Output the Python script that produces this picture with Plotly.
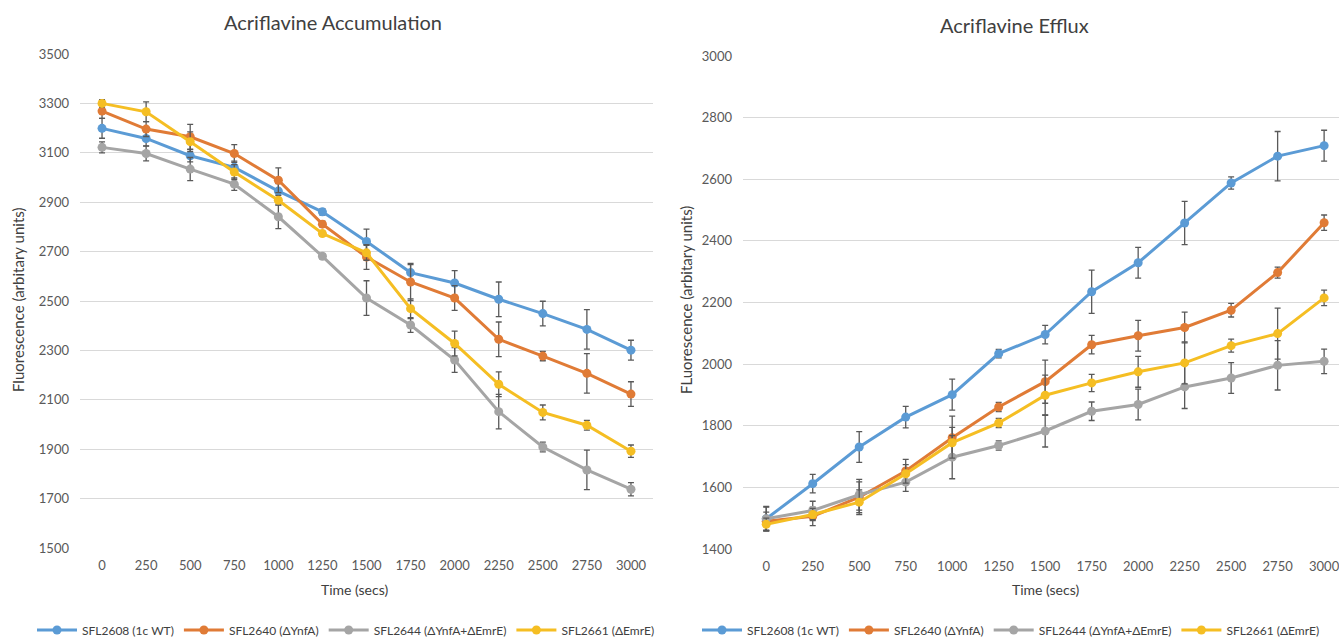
import plotly.graph_objects as go

times = ["0", "250", "500", "750", "1000", "1250", "1500", "1750", "2000", "2250", "2500", "2750", "3000"]
names = ["SFL2608 (1c WT)", "SFL2640 (ΔYnfA)", "SFL2644 (ΔYnfA+ΔEmrE)", "SFL2661 (ΔEmrE)"]
colors = ["#5B9BD5", "#E07B36", "#A5A5A5", "#F5BE23"]

# Accumulation (left)
acc_wt = [3199, 3158, 3088, 3041, 2945, 2861, 2741, 2615, 2573, 2507, 2449, 2385, 2301]
acc_ynfa = [3269, 3196, 3165, 3097, 2989, 2811, 2678, 2577, 2512, 2345, 2277, 2207, 2123]
acc_both = [3122, 3097, 3034, 2973, 2841, 2681, 2512, 2403, 2261, 2052, 1909, 1816, 1738]
acc_emre = [3300, 3266, 3145, 3022, 2908, 2773, 2695, 2469, 2328, 2163, 2049, 1997, 1892]
acc_wt_err = [40, 30, 25, 25, 30, 13, 50, 32, 50, 70, 50, 80, 40]
acc_ynfa_err = [30, 30, 50, 36, 50, 12, 50, 75, 50, 70, 19, 80, 50]
acc_both_err = [22, 30, 47, 25, 48, 10, 70, 30, 50, 70, 20, 80, 27]
acc_emre_err = [15, 40, 40, 30, 20, 10, 30, 40, 50, 50, 30, 20, 25]

# Efflux (right)
eff_wt = [1498, 1612, 1731, 1828, 1901, 2034, 2096, 2235, 2329, 2458, 2588, 2675, 2709]
eff_ynfa = [1490, 1506, 1568, 1653, 1761, 1861, 1943, 2063, 2092, 2119, 2175, 2297, 2459]
eff_both = [1498, 1525, 1576, 1617, 1698, 1736, 1783, 1847, 1869, 1926, 1955, 1996, 2009]
eff_emre = [1480, 1512, 1552, 1644, 1745, 1809, 1899, 1939, 1975, 2004, 2060, 2099, 2215]
eff_wt_err = [38, 30, 50, 35, 50, 14, 30, 70, 50, 70, 20, 80, 50]
eff_ynfa_err = [30, 30, 50, 38, 70, 15, 70, 30, 50, 50, 22, 18, 25]
eff_both_err = [40, 30, 50, 30, 70, 15, 52, 30, 50, 70, 50, 80, 40]
eff_emre_err = [20, 20, 40, 30, 50, 15, 65, 28, 50, 68, 21, 83, 25]

acc = [acc_wt, acc_ynfa, acc_both, acc_emre]
acc_err = [acc_wt_err, acc_ynfa_err, acc_both_err, acc_emre_err]
eff = [eff_wt, eff_ynfa, eff_both, eff_emre]
eff_err = [eff_wt_err, eff_ynfa_err, eff_both_err, eff_emre_err]

FONT = "Lato, 'Open Sans', sans-serif"
W, H = 1339, 637

fig = go.Figure()
for i in range(4):
    fig.add_trace(go.Scatter(
        x=times, y=acc[i], name=names[i], mode="lines+markers",
        line=dict(color=colors[i], width=3), marker=dict(color=colors[i], size=9),
        error_y=dict(type="data", array=acc_err[i], color="#595959", thickness=1.3, width=3),
        xaxis="x", yaxis="y", legend="legend"))
for i in range(4):
    fig.add_trace(go.Scatter(
        x=times, y=eff[i], name=names[i], mode="lines+markers",
        line=dict(color=colors[i], width=3), marker=dict(color=colors[i], size=9),
        error_y=dict(type="data", array=eff_err[i], color="#595959", thickness=1.3, width=3),
        xaxis="x2", yaxis="y2", legend="legend2"))

axfont = dict(family=FONT, size=13, color="#595959")
xcommon = dict(type="category", showgrid=False, zeroline=False, showline=False,
               ticks="", tickfont=axfont, ticklabelstandoff=8)
ycommon = dict(showgrid=True, gridcolor="#D9D9D9", gridwidth=1, zeroline=False,
               showline=False, ticks="", tickfont=axfont, ticklabelstandoff=10)

fig.update_layout(
    width=W, height=H,
    margin=dict(l=0, r=0, t=0, b=0, autoexpand=False),
    paper_bgcolor="white", plot_bgcolor="white",
    font=dict(family=FONT, color="#404040"),
    xaxis=dict(xcommon, domain=[80 / W, 653 / W], range=[-0.5, 12.5], anchor="y"),
    yaxis=dict(ycommon, domain=[1 - 548 / H, 1 - 54 / H], range=[1500, 3500],
               tickvals=[1500, 1700, 1900, 2100, 2300, 2500, 2700, 2900, 3100, 3300, 3500],
               anchor="x"),
    xaxis2=dict(xcommon, domain=[743 / W, 1.0], range=[-0.5, 12.32], anchor="y2"),
    yaxis2=dict(ycommon, domain=[1 - 549 / H, 1 - 56 / H], range=[1400, 3000],
                tickvals=[1400, 1600, 1800, 2000, 2200, 2400, 2600, 2800, 3000],
                anchor="x2"),
    legend=dict(orientation="h", x=32 / W, y=1 - 630 / H, xanchor="left", yanchor="middle",
                font=dict(family=FONT, size=12, color="#404040"), itemwidth=40,
                bgcolor="rgba(0,0,0,0)", tracegroupgap=0),
    legend2=dict(orientation="h", x=697 / W, y=1 - 630 / H, xanchor="left", yanchor="middle",
                 font=dict(family=FONT, size=12, color="#404040"), itemwidth=40,
                 bgcolor="rgba(0,0,0,0)", tracegroupgap=0),
    annotations=[
        dict(text="Acriflavine Accumulation", x=333 / W, y=1 - 22 / H, xref="paper", yref="paper",
             showarrow=False, font=dict(family=FONT, size=20, color="#404040"), xanchor="center", yanchor="middle"),
        dict(text="Acriflavine Efflux", x=1014 / W, y=1 - 25 / H, xref="paper", yref="paper",
             showarrow=False, font=dict(family=FONT, size=20, color="#404040"), xanchor="center", yanchor="middle"),
        dict(text="Time (secs)", x=354 / W, y=1 - 589 / H, xref="paper", yref="paper",
             showarrow=False, font=dict(family=FONT, size=14, color="#404040"), xanchor="center", yanchor="middle"),
        dict(text="Time (secs)", x=1045 / W, y=1 - 589 / H, xref="paper", yref="paper",
             showarrow=False, font=dict(family=FONT, size=14, color="#404040"), xanchor="center", yanchor="middle"),
        dict(text="Fluorescence (arbitary units)", x=18 / W, y=1 - 300 / H, xref="paper", yref="paper",
             showarrow=False, textangle=-90, font=dict(family=FONT, size=15, color="#404040"),
             xanchor="center", yanchor="middle"),
        dict(text="FLuorescence (arbitary units)", x=686 / W, y=1 - 300 / H, xref="paper", yref="paper",
             showarrow=False, textangle=-90, font=dict(family=FONT, size=15, color="#404040"),
             xanchor="center", yanchor="middle"),
    ],
)

fig.write_html("out.html")
